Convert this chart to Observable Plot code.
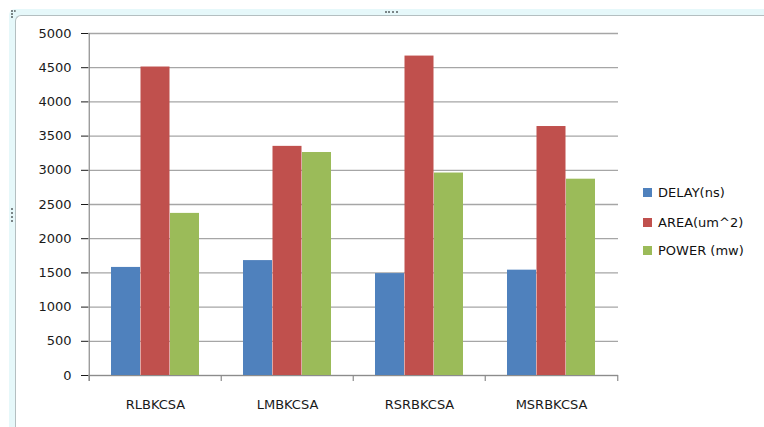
<!DOCTYPE html>
<html>
<head>
<meta charset="utf-8">
<script src="https://cdn.jsdelivr.net/npm/d3@7"></script>
<script src="https://cdn.jsdelivr.net/npm/@observablehq/plot@0.6"></script>
<style>
  html, body { margin: 0; padding: 0; background: #fff; }
  #wrap { position: relative; width: 764px; height: 427px; overflow: hidden; font-family: "DejaVu Sans", sans-serif; }
  #outer { position: absolute; left: 9px; top: 9px; width: 800px; height: 440px; background: #e6f8fa; border-radius: 6px; }
  #inner { position: absolute; left: 15px; top: 15px; width: 800px; height: 440px; background: #fff; border-left: 1.5px solid #b4bfc1; border-top: 1.5px solid #b4bfc1; border-radius: 6px 0 0 0; }
  #chart { position: absolute; left: 0; top: 0; }
  .dots-h { position: absolute; height: 0; border-top: 2px dotted #7a8587; }
  .dots-v { position: absolute; width: 0; border-left: 2px dotted #7a8587; }
  #legend { position: absolute; left: 643px; top: 0; font-size: 13px; color: #111; }
  .item { position: absolute; left: 0; white-space: nowrap; display: flex; align-items: center; }
  .sw { width: 9px; height: 9px; margin-right: 6px; }
</style>
</head>
<body>
<div id="wrap">
  <div id="outer"></div>
  <div id="inner"></div>
  <div class="dots-h" style="left:385px; top:11px; width:13px;"></div>
  <div class="dots-h" style="left:11px; top:10px; width:5px;"></div>
  <div class="dots-v" style="left:11px; top:13px; height:3px;"></div>
  <div class="dots-v" style="left:11px; top:208px; height:14px;"></div>
  <div id="chart"></div>
  <div id="legend"></div>
</div>
<script>
const categories = ["RLBKCSA", "LMBKCSA", "RSRBKCSA", "MSRBKCSA"];
const seriesNames = ["DELAY(ns)", "AREA(um^2)", "POWER (mw)"];
const delay = [1580, 1680, 1490, 1540];
const area = [4510, 3350, 4670, 3640];
const power = [2370, 3260, 2960, 2870];
const colors = ["#4f81bd", "#c0504d", "#9bbb59"];
const yTicks = [0, 500, 1000, 1500, 2000, 2500, 3000, 3500, 4000, 4500, 5000];

const seriesValues = [delay, area, power];

const W = 764, H = 427;
const mL = 88, mR = 146, mT = 33, mB = 52;
const band = (W - mL - mR) / categories.length;
const groupPad = band * 0.166;
const barW = (band - 2 * groupPad) / 3;

const barMarks = seriesValues.map((vals, i) =>
  Plot.barY(categories.map((c, j) => ({cat: c, value: vals[j]})), {
    x: "cat",
    y: "value",
    fill: colors[i],
    insetLeft: groupPad + barW * i,
    insetRight: band - groupPad - barW * (i + 1)
  })
);

const chart = Plot.plot({
  width: W,
  height: H,
  marginLeft: mL,
  marginRight: mR,
  marginTop: mT,
  marginBottom: mB,
  style: {background: "transparent", fontFamily: "DejaVu Sans, sans-serif", fontSize: "13px", color: "#1a1a1a"},
  x: {domain: categories, padding: 0, label: null, tickSize: 0, tickPadding: 24},
  y: {domain: [0, 5000], ticks: yTicks, tickFormat: d => String(d), label: null, tickSize: 7, tickPadding: 10},
  marks: [
    Plot.ruleY(yTicks, {stroke: "#a6a6a6", strokeWidth: 1.3}),
    ...barMarks,
    Plot.ruleY([0], {stroke: "#8c8c8c", strokeWidth: 1.2}),
    // category boundary ticks
    Plot.ruleX(categories, {x: d => d, y1: 0, y2: 0, insetTop: 6, dx: -band / 2, stroke: "#8c8c8c", strokeWidth: 1.2}),
    Plot.ruleX([categories[categories.length - 1]], {x: d => d, y1: 0, y2: 0, insetTop: 6, dx: band / 2, stroke: "#8c8c8c", strokeWidth: 1.2}),
    // y axis line
    Plot.ruleX([categories[0]], {x: d => d, y1: 0, y2: 5000, insetTop: 6, dx: -band / 2, stroke: "#8c8c8c", strokeWidth: 1.2})
  ]
});
document.getElementById("chart").appendChild(chart);

const legend = document.getElementById("legend");
const rowY = [192.7, 222.3, 250.7];
seriesNames.forEach((name, i) => {
  const item = document.createElement("div");
  item.className = "item";
  item.style.top = (rowY[i] - 9) + "px";
  item.style.height = "18px";
  const sw = document.createElement("div");
  sw.className = "sw";
  sw.style.background = colors[i];
  const t = document.createElement("span");
  t.textContent = name;
  item.appendChild(sw);
  item.appendChild(t);
  legend.appendChild(item);
});
</script>
</body>
</html>
